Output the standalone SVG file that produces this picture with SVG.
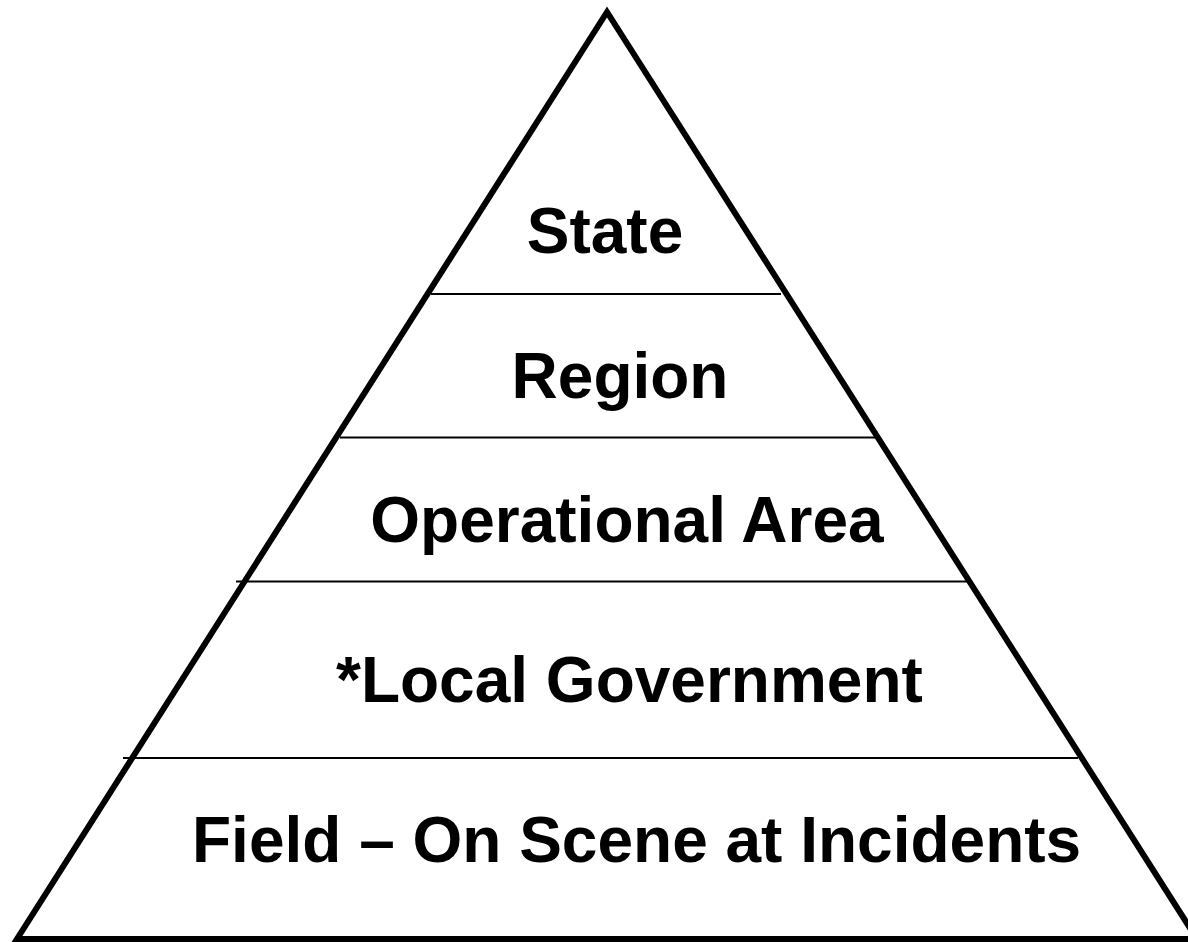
<svg xmlns="http://www.w3.org/2000/svg" width="1188" height="942" viewBox="0 0 1188 942">
  <style>
    .tri { fill: none; stroke: #000; stroke-width: 6; stroke-linejoin: miter; }
    .div { stroke: #000; stroke-width: 2; }
    .lbl { font-family: "Liberation Sans", Arial, sans-serif; font-weight: bold; font-size: 64px; fill: #000; }
  </style>
  <rect x="0" y="0" width="1188" height="942" fill="#fff"/>
  <g id="pyramid">
    <polygon class="tri" points="607,12 17,939 1197,939"/>
  </g>
  <g id="connectors">
    <line class="div" x1="431" y1="294" x2="781" y2="294"/>
    <line class="div" x1="340" y1="437.5" x2="875" y2="437.5"/>
    <line class="div" x1="236" y1="581.5" x2="967" y2="581.5"/>
    <line class="div" x1="123" y1="758" x2="1078" y2="758"/>
  </g>
  <g id="node-state">
    <text class="lbl" x="605" y="253" text-anchor="middle">State</text>
  </g>
  <g id="node-region">
    <text class="lbl" x="620" y="397.5" text-anchor="middle">Region</text>
  </g>
  <g id="node-operational-area">
    <text class="lbl" x="627" y="541.5" text-anchor="middle">Operational Area</text>
  </g>
  <g id="node-local-government">
    <text class="lbl" x="336" y="701.5">*Local Government</text>
  </g>
  <g id="node-field">
    <text class="lbl" x="192" y="861.5">Field – On Scene at Incidents</text>
  </g>
</svg>
